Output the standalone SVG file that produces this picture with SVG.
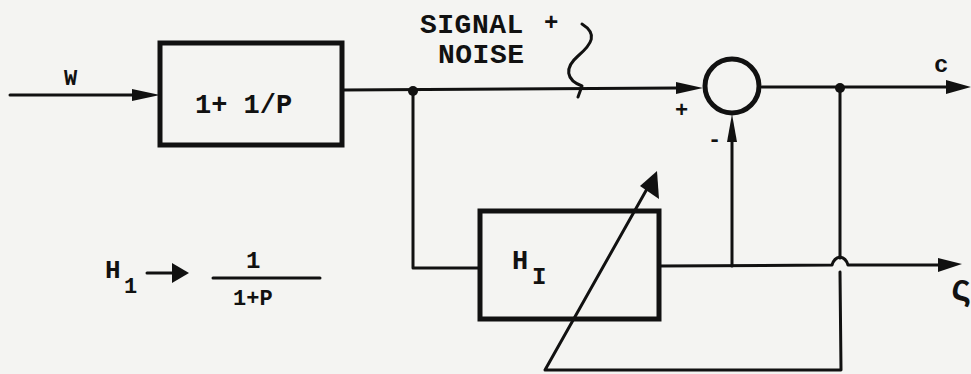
<svg xmlns="http://www.w3.org/2000/svg" width="971" height="374" viewBox="0 0 971 374">
<style>
.ln{fill:none;stroke:#111;stroke-width:3;stroke-linecap:round;stroke-linejoin:round}
.bx{fill:none;stroke:#111;stroke-width:5}
.t{font-family:"Liberation Mono","DejaVu Sans Mono",monospace;fill:#111;font-weight:bold}
.ah{fill:#111}
</style>
<rect width="971" height="374" fill="#f4f4f2"/>
<g id="connectors">
  <path class="ln" d="M10 95 L132 95"/>
  <polygon class="ah" points="132,89 160,95 132,101"/>
  <path class="ln" d="M342 90 L678 88"/>
  <polygon class="ah" points="676,82 703,88 676,94"/>
  <path class="ln" d="M413 91 L413 268 L480 268"/>
  <circle class="ah" cx="413" cy="91" r="5"/>
  <path class="ln" d="M762 87 L948 87"/>
  <polygon class="ah" points="946,80 971,87 946,94"/>
  <circle class="ah" cx="840" cy="88" r="5"/>
  <path class="ln" d="M840 88 L840 258 M840 272 L841 370 L545 370 L652 180"/>
  <polygon class="ah" points="657,171 659,199 640,186"/>
  <path class="ln" d="M660 266 L832 265 Q834 258 840 257 Q846 258 848 265 L940 265"/>
  <polygon class="ah" points="938,258 962,264 938,272"/>
  <path class="ln" d="M732 266 L732 140"/>
  <polygon class="ah" points="727,142 732,114 737,142"/>
  <path class="ln" d="M582 24 C598 34 592 44 578 56 C564 68 566 80 582 86 L578 97" stroke-width="2.5"/>
</g>
<g id="sum">
  <circle cx="732" cy="86" r="27" fill="none" stroke="#111" stroke-width="5"/>
  <text class="t" x="675" y="117" font-size="22">+</text>
  <text class="t" x="708" y="146" font-size="22">-</text>
</g>
<g id="block1">
  <rect class="bx" x="160" y="43" width="182" height="102"/>
  <text class="t" x="195" y="113" font-size="27">1+ 1/P</text>
</g>
<g id="blockH">
  <rect class="bx" x="480" y="211" width="179" height="108"/>
  <text class="t" x="512" y="269" font-size="27">H</text>
  <text class="t" x="532" y="284" font-size="24">I</text>
</g>
<g id="labels">
  <text class="t" x="64" y="85" font-size="22">W</text>
  <text class="t" x="420" y="33" font-size="28" letter-spacing="0.5">SIGNAL</text>
  <text class="t" x="544" y="30" font-size="24">+</text>
  <text class="t" x="438" y="63" font-size="28" letter-spacing="0.5">NOISE</text>
  <text class="t" x="934" y="72" font-size="24">c</text>
  <text class="t" x="950" y="300" font-size="36">ς</text>
  <text class="t" x="105" y="278" font-size="26">H</text>
  <text class="t" x="124" y="293" font-size="22">1</text>
  <path class="ln" d="M147 273 L180 273"/>
  <polygon class="ah" points="172,263 189,273 172,283"/>
  <text class="t" x="246" y="268" font-size="24">1</text>
  <path class="ln" d="M213 278 L320 278"/>
  <text class="t" x="233" y="305" font-size="22">1+P</text>
</g>
</svg>
